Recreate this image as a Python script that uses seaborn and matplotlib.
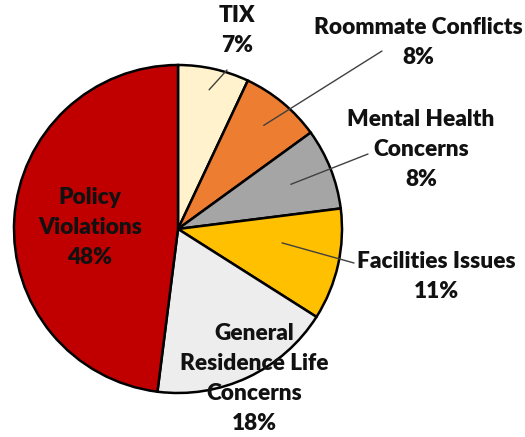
import numpy as np
import matplotlib
matplotlib.use("Agg")
import matplotlib.pyplot as plt
import seaborn as sns

categories = ["TIX", "Roommate Conflicts", "Mental Health\nConcerns", "Facilities Issues",
              "General\nResidence Life\nConcerns", "Policy\nViolations"]
values = [7, 8, 8, 11, 18, 48]
pct_labels = ["7%", "8%", "8%", "11%", "18%", "48%"]
colors = ["#FFF2CC", "#ED7D31", "#A5A5A5", "#FFC000", "#EDEDED", "#C00000"]

sns.set_theme(style="white")
plt.rcParams["font.family"] = ["Lato", "DejaVu Sans"]

W, H = 525, 437
fig = plt.figure(figsize=(W / 100, H / 100), dpi=100)
ax = fig.add_axes([0, 0, 1, 1])

cx, cy, R = 178, H - 229, 164
wedges, _ = ax.pie(values, colors=colors, startangle=90, counterclock=False,
                   center=(cx, cy), radius=R, frame=True,
                   wedgeprops=dict(edgecolor="black", linewidth=1.8))
ax.set_xlim(0, W)
ax.set_ylim(0, H)
ax.set_aspect("equal")
ax.axis("off")

# label positions in pixel coords (x, y of top line center), anchor radius fraction
label_pos = [(237, 15), (418, 28), (421, 120), (436, 262), (254, 333), (90, 197)]
anchor_frac = [0.87, 0.82, 0.74, 0.64, None, None]
anchor_shift = [0, 0, 0, 5, 0, 0]
line_end = [(227, 70), (382, 51), (368, 154), (354, 263), None, None]
fs = 16.3
lh = 30
for i, (w, cat, pct) in enumerate(zip(wedges, categories, pct_labels)):
    lines = cat.split("\n") + [pct]
    x0, y0 = label_pos[i]
    for k, ln in enumerate(lines):
        ax.text(x0, H - (y0 + k * lh), ln, ha="center", va="center",
                fontsize=fs, fontweight="heavy", color="#111111")
    if anchor_frac[i] is not None:
        mid = np.deg2rad((w.theta1 + w.theta2) / 2 + anchor_shift[i])
        ax_ = cx + anchor_frac[i] * R * np.cos(mid)
        ay_ = cy + anchor_frac[i] * R * np.sin(mid)
        ex, ey = line_end[i]
        ax.plot([ax_, ex], [ay_, H - ey], color="#404040", lw=1.0)

fig.savefig("out.png", dpi=100, facecolor="white")
